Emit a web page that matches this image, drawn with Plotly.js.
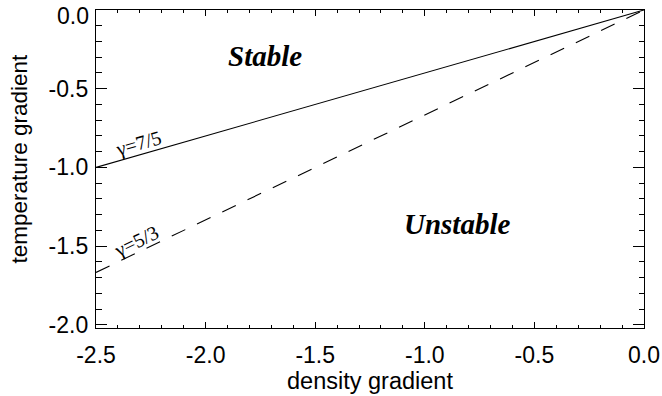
<!DOCTYPE html>
<html>
<head>
<meta charset="utf-8">
<script src="https://cdn.plot.ly/plotly-3.0.1.min.js"></script>
<style>html,body{margin:0;padding:0;background:#fff;}#plot{width:662px;height:396px;}</style>
</head>
<body>
<div id="plot"></div>
<script>
const densityGradient = [-2.5, 0.0];
const tempGamma75 = [-1.0, 0.0];
const tempGamma53 = [-1.6667, 0.0];
const xTickVals = [-2.5, -2.0, -1.5, -1.0, -0.5, 0.0];
const xTickText = ["-2.5", "-2.0", "-1.5", "-1.0", "-0.5", "0.0"];
const yTickVals = [-2.0, -1.5, -1.0, -0.5, 0.0];
const yTickText = ["-2.0", "-1.5", "-1.0", "-0.5", "0.0"];

const traces = [
  {x: densityGradient, y: tempGamma75, mode: 'lines', line: {color: '#000', width: 1.1}, hoverinfo: 'skip'},
  {x: densityGradient, y: tempGamma53, mode: 'lines', line: {color: '#000', width: 1.1, dash: '15px,13px'}, hoverinfo: 'skip'}
];

const sans = 'Liberation Sans, Arial, sans-serif';
const serif = 'Liberation Serif, Times New Roman, serif';

// the top y label sits just below its tick (as in the reference) so it is drawn as an annotation
const yLabelsOnAxis = yTickText.map((t, i) => (yTickVals[i] === 0 ? '' : t));
const topYLabel = yTickText[yTickVals.indexOf(0)];

const axisCommon = {
  showgrid: false, zeroline: false, showline: true, linecolor: '#000', linewidth: 1.2,
  mirror: 'ticks', ticks: 'inside', tickwidth: 1, tickcolor: '#000',
  tickfont: {family: sans, size: 23, color: '#000'}
};

const layout = {
  width: 662, height: 396,
  margin: {l: 96, r: 18, t: 10, b: 68},
  paper_bgcolor: '#fff', plot_bgcolor: '#fff',
  showlegend: false,
  xaxis: Object.assign({}, axisCommon, {
    range: [-2.5, 0.0], tickmode: 'array', tickvals: xTickVals, ticktext: xTickText,
    ticklen: 6, ticklabelstandoff: 6, ticklabeloverflow: 'allow',
    minor: {ticks: 'inside', ticklen: 3, tickwidth: 1, tickcolor: '#000', dtick: 0.1, showgrid: false},
    title: {text: 'density gradient', font: {family: sans, size: 23.5, color: '#000'}, standoff: 0}
  }),
  yaxis: Object.assign({}, axisCommon, {
    range: [-2.02, 0.0], tickmode: 'array', tickvals: yTickVals, ticktext: yLabelsOnAxis,
    ticklen: 11, ticklabelstandoff: 2,
    minor: {ticks: 'inside', ticklen: 5.5, tickwidth: 1, tickcolor: '#000', dtick: 0.1, showgrid: false}
  }),
  annotations: [
    {xref: 'paper', yref: 'paper', x: -0.0091, y: 0.9796, xanchor: 'right', yanchor: 'middle', text: topYLabel, showarrow: false, font: {family: sans, size: 23, color: '#000'}},
    {xref: 'paper', yref: 'paper', x: -0.1405, y: 0.533, xanchor: 'center', yanchor: 'middle', text: 'temperature gradient', textangle: -90, showarrow: false, font: {family: sans, size: 22.5, color: '#000'}},
    {x: -1.731, y: -0.29, text: '<b><i>Stable</i></b>', showarrow: false, font: {family: serif, size: 29, color: '#000'}},
    {x: -0.855, y: -1.362, text: '<b><i>Unstable</i></b>', showarrow: false, font: {family: serif, size: 29, color: '#000'}},
    {x: -2.304, y: -0.848, text: 'γ=7/5', showarrow: false, textangle: -16, font: {family: serif, size: 20, color: '#000'}},
    {x: -2.315, y: -1.471, text: 'γ=5/3', showarrow: false, textangle: -26, font: {family: serif, size: 20, color: '#000'}}
  ]
};

Plotly.newPlot('plot', traces, layout, {staticPlot: true, displayModeBar: false});
</script>
</body>
</html>
